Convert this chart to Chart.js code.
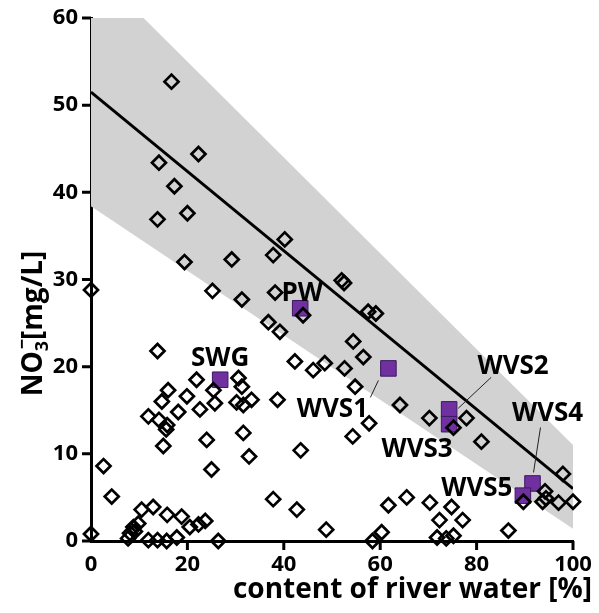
<!DOCTYPE html>
<html>
<head>
<meta charset="utf-8">
<script src="https://cdn.jsdelivr.net/npm/chart.js@4/dist/chart.umd.min.js"></script>
<style>
html,body{margin:0;padding:0;background:#fff;}
#wrap{position:relative;width:599px;height:613px;}
</style>
</head>
<body>
<div id="wrap"><canvas id="c"></canvas></div>
<script>
// ---- data ----
const obsX = [16.7,14.1,22.3,17.3,13.8,20.0,19.4,29.2,25.2,31.3,0,13.8,
  40.2,37.8,52.0,52.5,38.2,44.0,57.5,59.1,36.8,39.2,54.4,56.5,42.3,48.5,46.1,52.6,
  54.8,38.7,64.1,57.7,54.3,43.5,37.8,42.7,48.8,61.7,65.5,60.3,58.4,
  21.9,30.6,31.3,16.0,14.7,19.9,25.4,25.7,22.6,18.1,11.9,14.1,15.8,15.6,30.2,31.6,33.3,24.0,31.6,15.0,32.8,25.0,2.6,4.3,
  10.5,12.9,15.8,18.8,20.5,22.3,23.7,8.8,9.8,8.1,7.7,9.1,11.9,13.8,15.7,17.8,26.4,0,
  70.2,77.9,75.2,81.0,89.7,97.9,94.2,94.4,93.7,97.0,100,70.3,74.8,72.3,77.1,86.6,71.8,73.7,75.2];
const obsY = [52.7,43.4,44.4,40.7,36.9,37.6,32.0,32.3,28.7,27.7,28.8,21.8,
  34.6,32.8,29.9,29.6,28.5,25.9,26.3,26.1,25.1,24.0,22.9,21.1,20.6,20.4,19.6,19.8,
  17.7,16.2,15.6,13.5,12.0,10.4,4.8,3.6,1.3,4.1,5.0,1.0,0,
  18.5,18.7,17.7,17.3,16.0,16.6,17.3,15.8,15.1,14.8,14.3,13.9,13.3,12.8,15.9,15.6,16.2,11.6,12.4,10.9,9.7,8.2,8.6,5.1,
  3.6,3.9,3.0,2.8,1.6,1.9,2.3,1.6,2.0,0.9,0.3,1.1,0.1,0.1,0,0.4,0,0.8,
  14.1,14.1,13.0,11.4,4.5,7.7,5.7,4.9,4.5,4.4,4.5,4.4,3.9,2.4,2.4,1.2,0.4,0.3,0.6];

const sampleNames = ['PW','SWG','WVS1','WVS2','WVS3','WVS4','WVS5'];
const sampleX = [43.4,26.8,61.7,74.3,74.3,91.6,89.6];
const sampleY = [26.7,18.5,19.8,15.1,13.4,6.6,5.2];

const lineX = [0,100];
const lineY = [51.5,6.0];
const bandX = [0,100];
const bandUpper = [66,11];
const bandLower = [38.4,1.4];

const xTicks = [0,20,40,60,80,100];
const yTicks = [0,10,20,30,40,50,60];

const xTitle = 'content of river water [%]';
const yTitleParts = ['NO','3','\u2212','[mg/L]'];

// ---- helpers ----
const pts = (xs, ys) => xs.map((x,i)=>({x:x, y:ys[i]}));

const labelOffsets = {
  PW:[2,-17], SWG:[0,-23], WVS1:[-56,39], WVS2:[64,-45], WVS3:[-32,24], WVS4:[15,-72], WVS5:[-46,-9]
};
const leaders = {
  WVS1:[[-10,12],[-18,29]],
  WVS2:[[9,-1],[42,-32]],
  WVS4:[[8,-56],[1,-11]]
};

const FONT = '"Open Sans", "DejaVu Sans", sans-serif';

const annotatePlugin = {
  id:'annotate',
  afterDatasetsDraw(chart){
    const ctx = chart.ctx, xs = chart.scales.x, ys = chart.scales.y;
    ctx.save();
    sampleNames.forEach((n,i)=>{
      const px = xs.getPixelForValue(sampleX[i]);
      const py = ys.getPixelForValue(sampleY[i]);
      if (leaders[n]) {
        const [a,b] = leaders[n];
        ctx.beginPath();
        ctx.strokeStyle = '#222';
        ctx.lineWidth = 1;
        ctx.moveTo(px+a[0], py+a[1]);
        ctx.lineTo(px+b[0], py+b[1]);
        ctx.stroke();
      }
      const off = labelOffsets[n];
      const size = 26;
      ctx.font = 'bold '+size+'px '+FONT;
      ctx.fillStyle = '#000';
      ctx.textAlign = 'center';
      ctx.textBaseline = 'alphabetic';
      ctx.fillText(n, px+off[0], py+off[1]+size*0.357);
    });
    ctx.restore();
  },
  afterDraw(chart){
    const ctx = chart.ctx;
    const area = chart.chartArea;
    const xs = chart.scales.x, ys = chart.scales.y;
    ctx.save();
    // tick marks outside the axes
    ctx.strokeStyle = '#000';
    ctx.lineWidth = 3;
    ctx.beginPath();
    yTicks.forEach(v=>{
      const py = ys.getPixelForValue(v);
      ctx.moveTo(area.left - 9, py); ctx.lineTo(area.left, py);
    });
    xTicks.forEach(v=>{
      if (v === xTicks[0]) return;
      const px = xs.getPixelForValue(v);
      ctx.moveTo(px, area.bottom); ctx.lineTo(px, area.bottom + 9);
    });
    ctx.stroke();

    ctx.fillStyle = '#000';
    ctx.font = 'bold 28px '+FONT;
    ctx.textAlign = 'center';
    ctx.textBaseline = 'alphabetic';
    ctx.fillText(xTitle, area.left + (area.right-area.left)*0.667, 598);
    const big = 'bold 28px '+FONT, small = 'bold 18px '+FONT;
    ctx.font = big; const w0 = ctx.measureText(yTitleParts[0]).width;
    ctx.font = small; const w1 = ctx.measureText(yTitleParts[1]).width;
    const w2 = ctx.measureText(yTitleParts[2]).width;
    ctx.font = big; const w3 = ctx.measureText(yTitleParts[3]).width;
    const total = w0 + w1 + w3 + 1;
    ctx.translate(42, (area.top+area.bottom)/2 + 44);
    ctx.rotate(-Math.PI/2);
    ctx.textAlign = 'left';
    let cx = -total/2;
    ctx.font = big; ctx.fillText(yTitleParts[0], cx, 0); cx += w0;
    ctx.font = small; ctx.fillText(yTitleParts[1], cx, 6);
    ctx.fillText(yTitleParts[2], cx + (w1-w2)/2 + 2, -14); cx += w1 + 1;
    ctx.font = big; ctx.fillText(yTitleParts[3], cx, 0);
    ctx.restore();
  }
};

new Chart(document.getElementById('c'), {
  type:'scatter',
  data:{
    datasets:[
      { label:'obs', data:pts(obsX,obsY), pointStyle:'rectRot', pointRadius:7,
        pointBorderWidth:2.7, borderColor:'#000', backgroundColor:'rgba(0,0,0,0)',
        pointBackgroundColor:'rgba(0,0,0,0)', pointBorderColor:'#000', clip:false },
      { label:'samples', data:pts(sampleX,sampleY), pointStyle:'rect', pointRadius:11,
        pointBackgroundColor:'#7030a0', pointBorderColor:'#3b1860', pointBorderWidth:1, clip:false },
      { label:'fit', data:pts(lineX,lineY), showLine:true, borderColor:'#000', borderWidth:3,
        pointRadius:0, fill:false },
      { label:'bandU', data:pts(bandX,bandUpper), showLine:true, borderWidth:0, borderColor:'rgba(0,0,0,0)',
        pointRadius:0, backgroundColor:'#d2d2d2', fill:'+1' },
      { label:'bandL', data:pts(bandX,bandLower), showLine:true, borderWidth:0, borderColor:'rgba(0,0,0,0)',
        pointRadius:0, fill:false }
    ]
  },
  options:{
    responsive:true, maintainAspectRatio:false, animation:false,
    layout:{ padding:{ top:18, right:26, left:0, bottom:0 } },
    plugins:{ legend:{display:false}, tooltip:{enabled:false} },
    scales:{
      x:{ type:'linear', min:0, max:100,
        afterBuildTicks(s){ s.ticks = xTicks.map(v=>({value:v})); },
        afterFit(s){ s.height = 72; },
        border:{ color:'#000', width:3 },
        grid:{ display:true, drawOnChartArea:false, drawTicks:true, tickLength:7, color:'rgba(0,0,0,0)', tickColor:'rgba(0,0,0,0)' },
        ticks:{ color:'#000', padding:4, font:{ family:FONT, size:22, weight:'bold' }, maxRotation:0 }
      },
      y:{ type:'linear', min:0, max:60,
        afterBuildTicks(s){ s.ticks = yTicks.map(v=>({value:v})); },
        afterFit(s){ s.width = 91; },
        border:{ color:'#000', width:3 },
        grid:{ display:true, drawOnChartArea:false, drawTicks:true, tickLength:9, color:'rgba(0,0,0,0)', tickColor:'rgba(0,0,0,0)' },
        ticks:{ color:'#000', padding:4, font:{ family:FONT, size:22, weight:'bold' } }
      }
    }
  },
  plugins:[annotatePlugin]
});
</script>
</body>
</html>
